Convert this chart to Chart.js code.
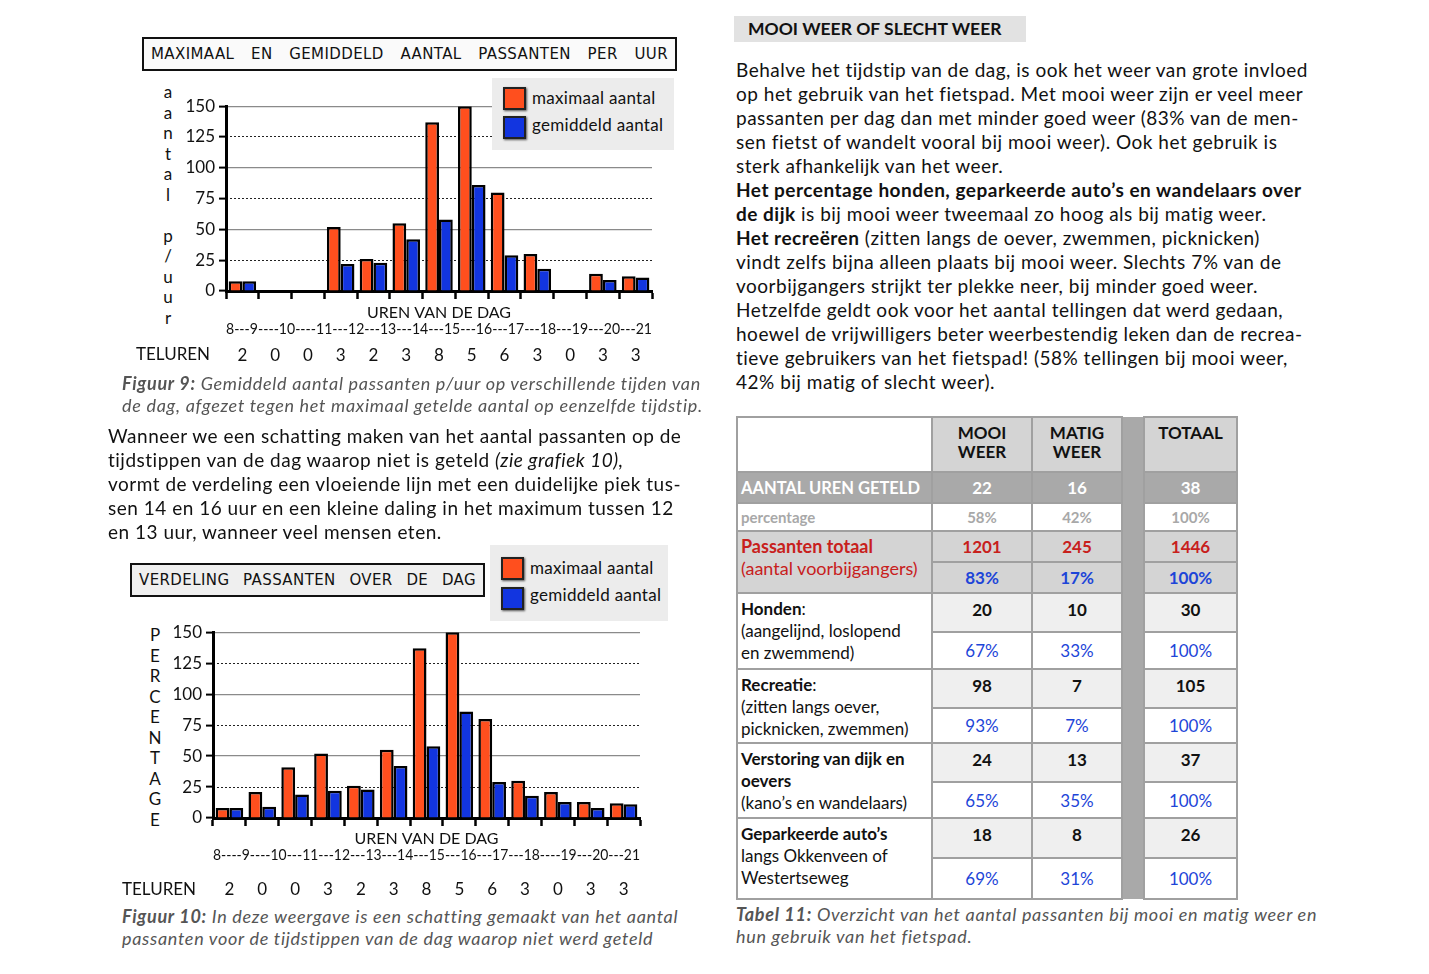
<!DOCTYPE html>
<html>
<head>
<meta charset="utf-8">
<script src="https://cdn.jsdelivr.net/npm/chart.js@4.4.1/dist/chart.umd.min.js"></script>
<style>
    body { margin: 0; width: 1429px; height: 974px; position: relative; overflow: hidden; background: #fff; font-family: Lato, 'Noto Sans', sans-serif; color: #111; }
    .abs { position: absolute; white-space: nowrap; }
    .para { font-size: 19px; line-height: 24px; letter-spacing: 0.5px; }
    .caption { font-size: 18px; line-height: 22px; font-style: italic; color: #555; letter-spacing: 0.7px; }
    .boxTitle { position: absolute; border: 2px solid #111; box-sizing: border-box; display: flex; justify-content: space-between; align-items: center; padding: 0 7px; font-family: 'DejaVu Sans', sans-serif; font-size: 15px; letter-spacing: 0.4px; }
    .legend { position: absolute; z-index: 5; background: #ececec; font-size: 17px; }
    .legend .sw { position: absolute; left: 11px; width: 19px; height: 19px; border: 2px solid #222; box-shadow: 1px 1px 2px #555; }
    .legend .lt { position: absolute; left: 40px; white-space: nowrap; letter-spacing: 0.3px; }
    .stack { position: absolute; width: 20px; text-align: center; font-size: 17px; }
    .stack div { height: 20.5px; line-height: 20.5px; }
    .chartBox { position: absolute; }
    .tel { font-size: 17px; }
    table { position: absolute; left: 736px; top: 416px; border-collapse: collapse; table-layout: fixed; font-size: 17px; }
    td { border: 2px solid #a0a0a0; padding: 0 3px; }
    td.num { text-align: center; font-weight: bold; vertical-align: top; padding-top: 5px; }
    td.pct { text-align: center; color: #1d45d8; vertical-align: middle; }
    td.strip { background: #a9a9a9; border-top: none; border-bottom: none; }
    td.lab { vertical-align: top; line-height: 22px; padding-top: 4px; background: #fff; }
</style>
</head>
<body>

<div class="boxTitle" style="left:142px;top:37px;width:535px;height:34px;background:#fafafa;">
    <span>MAXIMAAL</span><span>EN</span><span>GEMIDDELD</span><span>AANTAL</span><span>PASSANTEN</span><span>PER</span><span>UUR</span>
</div>
<div class="legend" style="left:492px;top:78px;width:182px;height:72px;">
    <div class="sw" style="top:9px;background:#ff4f1e;"></div><div class="lt" style="top:9px;">maximaal aantal</div>
    <div class="sw" style="top:38px;background:#1235e0;"></div><div class="lt" style="top:36px;">gemiddeld aantal</div>
</div>
<div class="stack" id="stack9" style="left:158px;top:82px;"></div>
<div class="chartBox" style="left:172px;top:92px;width:498px;height:283px;"><canvas id="fig9"></canvas></div>
<div class="abs tel" style="left:136px;top:343px;">TELUREN</div>
<div class="abs caption" style="left:122px;top:372px;"><b>Figuur 9:</b> Gemiddeld aantal passanten p/uur op verschillende tijden van<br>de dag, afgezet tegen het maximaal getelde aantal op eenzelfde tijdstip.</div>

<div class="abs para" style="left:108px;top:424px;">Wanneer we een schatting maken van het aantal passanten op de<br>tijdstippen van de dag waarop niet is geteld <i>(zie grafiek 10),</i><br>vormt de verdeling een vloeiende lijn met een duidelijke piek tus-<br>sen 14 en 16 uur en een kleine daling in het maximum tussen 12<br>en 13 uur, wanneer veel mensen eten.</div>

<div class="boxTitle" style="left:130px;top:563px;width:355px;height:34px;background:#efefef;">
    <span>VERDELING</span><span>PASSANTEN</span><span>OVER</span><span>DE</span><span>DAG</span>
</div>
<div class="legend" style="left:490px;top:545px;width:178px;height:76px;">
    <div class="sw" style="top:12px;background:#ff4f1e;"></div><div class="lt" style="top:12px;">maximaal aantal</div>
    <div class="sw" style="top:42px;background:#1235e0;"></div><div class="lt" style="top:39px;">gemiddeld aantal</div>
</div>
<div class="stack" id="stack10" style="left:145px;top:625px;"></div>
<div class="chartBox" style="left:160px;top:618px;width:498px;height:283px;"><canvas id="fig10"></canvas></div>
<div class="abs tel" style="left:122px;top:878px;">TELUREN</div>
<div class="abs caption" style="left:122px;top:905px;"><b>Figuur 10:</b> In deze weergave is een schatting gemaakt van het aantal<br>passanten voor de tijdstippen van de dag waarop niet werd geteld</div>

<div class="abs" style="left:734px;top:16px;width:292px;height:26px;background:#e2e2e2;"></div>
<div class="abs" style="left:748px;top:17px;font-weight:bold;font-size:17.5px;line-height:24px;">MOOI WEER OF SLECHT WEER</div>
<div class="abs para" style="left:736px;top:58px;">Behalve het tijdstip van de dag, is ook het weer van grote invloed<br>op het gebruik van het fietspad. Met mooi weer zijn er veel meer<br>passanten per dag dan met minder goed weer (83% van de men-<br>sen fietst of wandelt vooral bij mooi weer). Ook het gebruik is<br>sterk afhankelijk van het weer.<br><b>Het percentage honden, geparkeerde auto’s en wandelaars over</b><br><b>de dijk</b> is bij mooi weer tweemaal zo hoog als bij matig weer.<br><b>Het recreëren</b> (zitten langs de oever, zwemmen, picknicken)<br>vindt zelfs bijna alleen plaats bij mooi weer. Slechts 7% van de<br>voorbijgangers strijkt ter plekke neer, bij minder goed weer.<br>Hetzelfde geldt ook voor het aantal tellingen dat werd gedaan,<br>hoewel de vrijwilligers beter weerbestendig leken dan de recrea-<br>tieve gebruikers van het fietspad! (58% tellingen bij mooi weer,<br>42% bij matig of slecht weer).</div>

<table id="tabel11"></table>
<div class="abs caption" style="left:736px;top:903px;"><b>Tabel 11:</b> Overzicht van het aantal passanten bij mooi en matig weer en<br>hun gebruik van het fietspad.</div>

<script>
var hourLabels = ['8-9', '9-10', '10-11', '11-12', '12-13', '13-14', '14-15', '15-16', '16-17', '17-18', '18-19', '19-20', '20-21'];
var telUren = ['2', '0', '0', '3', '2', '3', '8', '5', '6', '3', '0', '3', '3'];

// figuur 9: alleen getelde uren
var maxFig9 = [8, 0, 0, 52, 26, 55, 137, 150, 80, 30, 0, 14, 12];
var avgFig9 = [8, 0, 0, 22, 23, 42, 58, 86, 29, 18, 0, 9, 11];

// figuur 10: ontbrekende uren geschat
var maxFig10 = [8, 21, 41, 52, 26, 55, 137, 150, 80, 30, 21, 13, 12];
var avgFig10 = [8, 9, 19, 22, 23, 42, 58, 86, 29, 18, 13, 8, 11];

var hourText9 = '8---9----10----11---12---13---14---15---16---17---18---19---20---21';
var hourText10 = '8----9----10---11---12---13---14---15---16---17---18----19---20---21';
var yTitle9 = ['a', 'a', 'n', 't', 'a', 'l', '', 'p', '/', 'u', 'u', 'r'];
var yTitle10 = ['P', 'E', 'R', 'C', 'E', 'N', 'T', 'A', 'G', 'E'];
var dottedTicks = [25, 75, 125];

var weerKoppen = ['MOOI<br>WEER', 'MATIG<br>WEER', 'TOTAAL'];
var urenGeteld = ['22', '16', '38'];
var urenPercentage = ['58%', '42%', '100%'];
var passantenTotaal = ['1201', '245', '1446'];
var passantenPercentage = ['83%', '17%', '100%'];
var gebruikLabels = [
    '<b>Honden</b>:<br>(aangelijnd, loslopend<br>en zwemmend)',
    '<b>Recreatie</b>:<br>(zitten langs oever,<br>picknicken, zwemmen)',
    '<b>Verstoring van dijk en<br>oevers</b><br>(kano’s en wandelaars)',
    '<b>Geparkeerde auto’s</b><br>langs Okkenveen of<br>Westertseweg'
];
var gebruikAantal = [['20', '10', '30'], ['98', '7', '105'], ['24', '13', '37'], ['18', '8', '26']];
var gebruikPercentage = [['67%', '33%', '100%'], ['93%', '7%', '100%'], ['65%', '35%', '100%'], ['69%', '31%', '100%']];

var ORANGE = '#ff4f1e';
var BLUE = '#1235e0';

function fillStack(id, letters) {
    var el = document.getElementById(id);
    letters.forEach(function (ch) {
        var d = document.createElement('div');
        d.textContent = ch;
        el.appendChild(d);
    });
}

function buildChart(canvasId, maxData, avgData, hourText, yWidth, xHeight, telPadding) {
    var fixed = function (size) {
        return function (scale) { scale.height = size; };
    };
    return new Chart(document.getElementById(canvasId), {
        type: 'bar',
        data: {
            labels: hourLabels,
            datasets: [
                { label: 'maximaal aantal', data: maxData, backgroundColor: ORANGE, borderColor: '#000', borderWidth: 2.5 },
                { label: 'gemiddeld aantal', data: avgData, backgroundColor: BLUE, borderColor: '#000', borderWidth: 2.5 }
            ]
        },
        options: {
            responsive: true,
            maintainAspectRatio: false,
            animation: false,
            layout: { padding: { top: 14, right: 18, left: 0, bottom: 0 } },
            datasets: { bar: { categoryPercentage: 0.84, barPercentage: 1 } },
            plugins: { legend: { display: false }, tooltip: { enabled: false } },
            scales: {
                x: {
                    ticks: { display: false },
                    grid: { drawOnChartArea: false, drawTicks: true, tickLength: 8, tickColor: '#000', tickWidth: 2.5 },
                    border: { color: '#000', width: 3 },
                    title: { display: true, text: ['UREN VAN DE DAG', hourText], color: '#111', font: { size: 16, lineHeight: 1.0 }, padding: 0 },
                    afterFit: fixed(xHeight)
                },
                x2: {
                    type: 'category',
                    labels: hourLabels,
                    position: 'bottom',
                    offset: true,
                    grid: { display: false, drawTicks: false },
                    border: { display: false },
                    ticks: {
                        autoSkip: false, maxRotation: 0, color: '#111', font: { size: 17 }, padding: telPadding,
                        callback: function (value, index) { return telUren[index]; }
                    },
                    afterFit: fixed(38)
                },
                y: {
                    min: 0, max: 150,
                    ticks: { stepSize: 25, color: '#111', font: { size: 17 }, padding: 4 },
                    grid: {
                        color: function (ctx) {
                            var v = ctx.tick ? ctx.tick.value : 0;
                            return (v > 0 && v % 50 === 0) ? '#8a8a8a' : 'rgba(0,0,0,0)';
                        },
                        lineWidth: 1.2, tickColor: '#000', tickLength: 7, tickWidth: 2
                    },
                    border: { color: '#000', width: 3 },
                    afterFit: function (scale) { scale.width = yWidth; }
                },
                yDots: {
                    position: 'right',
                    min: 0, max: 150,
                    ticks: { display: false },
                    afterBuildTicks: function (scale) {
                        scale.ticks = dottedTicks.map(function (v) { return { value: v }; });
                    },
                    grid: { color: '#222', lineWidth: 1, drawTicks: false },
                    border: { display: false, dash: [2, 2] },
                    afterFit: function (scale) { scale.width = 0; }
                }
            }
        }
    });
}

function cell(html, cls, extra) {
    return '<td' + (cls ? ' class="' + cls + '"' : '') + (extra ? ' ' + extra : '') + '>' + html + '</td>';
}

function buildTable() {
    var rows = [];
    var colgroup = '<colgroup><col style="width:195px"><col style="width:100px"><col style="width:90px"><col style="width:22px"><col style="width:93px"></colgroup>';
    rows.push('<tr style="height:55px">' + cell('', '', 'style="background:#fff"') +
        cell(weerKoppen[0], 'num', 'style="background:#d4d4d4;line-height:19px"') +
        cell(weerKoppen[1], 'num', 'style="background:#d4d4d4;line-height:19px"') +
        cell('', 'strip', 'rowspan="13"') +
        cell(weerKoppen[2], 'num', 'style="background:#d4d4d4;line-height:19px"') + '</tr>');
    var gs = 'style="background:#a9a9a9;color:#fff;vertical-align:middle;padding-top:0"';
    rows.push('<tr style="height:31px">' + cell('AANTAL UREN GETELD', '', 'style="background:#a9a9a9;color:#fff;font-weight:bold;font-size:16.5px"') +
        cell(urenGeteld[0], 'num', gs) + cell(urenGeteld[1], 'num', gs) + cell(urenGeteld[2], 'num', gs) + '</tr>');
    var ps = 'style="color:#a8a8a8;font-weight:bold;font-size:15px;vertical-align:middle;padding-top:0"';
    rows.push('<tr style="height:28px">' + cell('percentage', '', 'style="color:#a8a8a8;font-weight:bold;font-size:15px"') +
        cell(urenPercentage[0], 'num', ps) + cell(urenPercentage[1], 'num', ps) + cell(urenPercentage[2], 'num', ps) + '</tr>');
    var rs = 'style="background:#d4d4d4;color:#c8201c;vertical-align:middle;padding-top:0"';
    rows.push('<tr style="height:31px">' + cell('<b>Passanten totaal</b><br>(aantal voorbijgangers)', 'lab', 'rowspan="2" style="background:#d4d4d4;color:#c8201c;font-size:18px;padding-top:3px"') +
        cell(passantenTotaal[0], 'num', rs) + cell(passantenTotaal[1], 'num', rs) + cell(passantenTotaal[2], 'num', rs) + '</tr>');
    var bs = 'style="background:#d4d4d4;font-weight:bold"';
    rows.push('<tr style="height:31px">' + cell(passantenPercentage[0], 'pct', bs) + cell(passantenPercentage[1], 'pct', bs) + cell(passantenPercentage[2], 'pct', bs) + '</tr>');
    var heights = [[39, 37], [39, 35], [39, 36], [40, 41]];
    gebruikLabels.forEach(function (label, i) {
        var cs = 'style="background:#efefef"';
        rows.push('<tr style="height:' + heights[i][0] + 'px">' + cell(label, 'lab', 'rowspan="2"') +
            cell(gebruikAantal[i][0], 'num', cs) + cell(gebruikAantal[i][1], 'num', cs) + cell(gebruikAantal[i][2], 'num', cs) + '</tr>');
        rows.push('<tr style="height:' + heights[i][1] + 'px">' +
            cell(gebruikPercentage[i][0], 'pct') + cell(gebruikPercentage[i][1], 'pct') + cell(gebruikPercentage[i][2], 'pct') + '</tr>');
    });
    document.getElementById('tabel11').innerHTML = colgroup + rows.join('');
}

Chart.defaults.font.family = "Lato, 'Noto Sans', sans-serif";
fillStack('stack9', yTitle9);
fillStack('stack10', yTitle10);
buildTable();
buildChart('fig9', maxFig9, avgFig9, hourText9, 54, 46, 8);
buildChart('fig10', maxFig10, avgFig10, hourText10, 53, 45, 16);
</script>
</body>
</html>
